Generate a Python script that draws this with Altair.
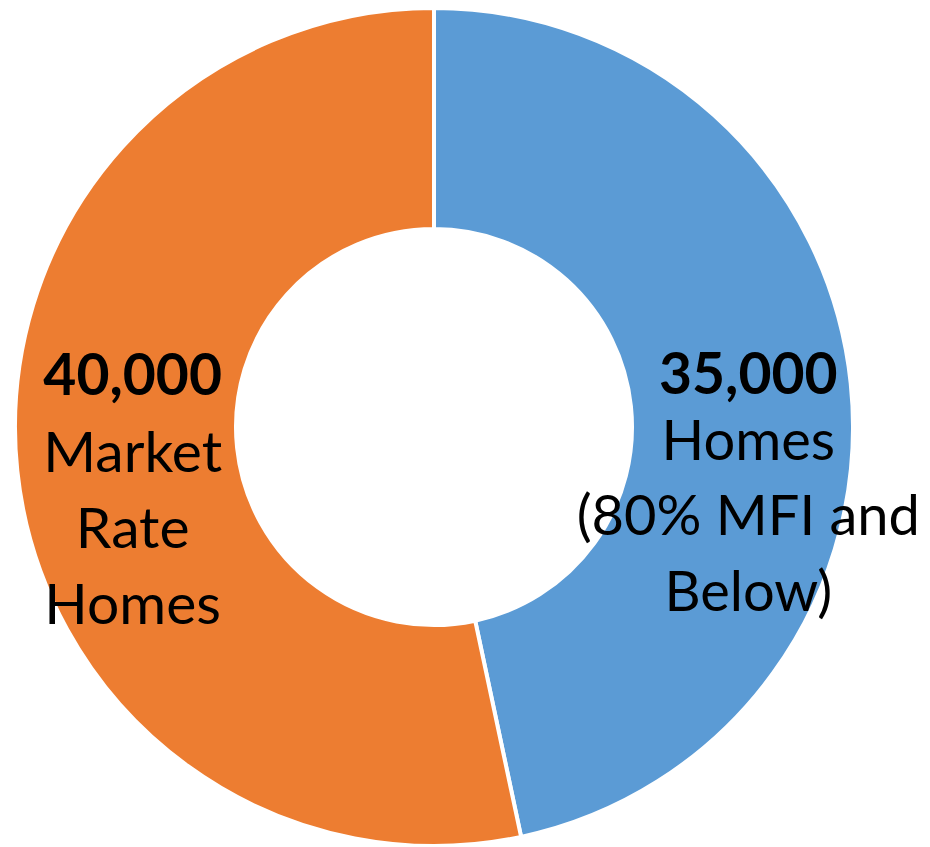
import altair as alt
import pandas as pd

categories = ["Homes (80% MFI and Below)", "Market Rate Homes"]
values = [35000, 40000]
numbers = ["35,000", "40,000"]
descriptions = ["Homes\n(80% MFI and\nBelow)", "Market\nRate\nHomes"]
colors = ["#5B9BD5", "#ED7D31"]
order = [0, 1]

df = pd.DataFrame({
    "category": categories,
    "value": values,
    "number": numbers,
    "desc": descriptions,
    "order": order,
})

base = alt.Chart(df).encode(
    theta=alt.Theta("value:Q", stack=True),
    order=alt.Order("order:Q"),
)

arcs = base.mark_arc(outerRadius=419, innerRadius=198, stroke="white", strokeWidth=4).encode(
    color=alt.Color("category:N", scale=alt.Scale(domain=categories, range=colors), legend=None)
)


def label(idx, field, radius, dy, bold, lh, size):
    cat = categories[idx]
    return base.transform_calculate(
        t=f"datum.category == '{cat}' ? datum.{field} : ''"
    ).mark_text(
        radius=radius, font="Lato", fontSize=size,
        fontWeight="bold" if bold else "normal",
        align="center", baseline="alphabetic", lineBreak="\n",
        lineHeight=lh, dy=dy, color="black",
    ).encode(text="t:N")


layers = [
    arcs,
    label(0, "number", 316, 0, True, 75.5, 57),
    label(0, "desc", 316, 66, False, 75.5, 56),
    label(1, "number", 303, -63.7, True, 76, 57),
    label(1, "desc", 303, 13.3, False, 76, 57),
]

chart = alt.layer(*layers).properties(
    width=852, height=838,
    padding={"left": 0, "top": 0, "right": 62, "bottom": 0},
    autosize="none",
).configure_view(stroke=None)

chart.save("out.html", embed_options={"renderer": "svg", "actions": False})
